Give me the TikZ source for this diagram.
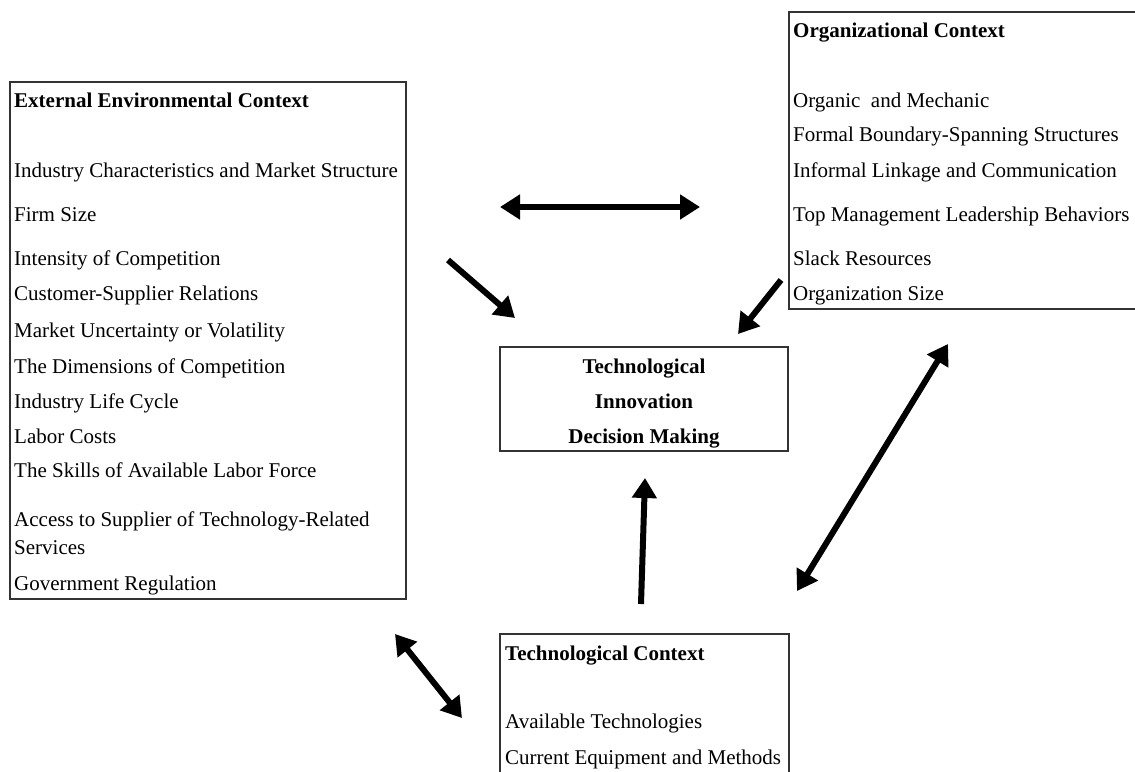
\documentclass[tikz,border=0pt]{standalone}
\usepackage{fontspec}
\setmainfont{Liberation Serif}
\usetikzlibrary{arrows.meta}
\begin{document}
\begin{tikzpicture}[x=1pt,y=-1pt,
  box/.style={draw=black!80, line width=2pt, inner sep=0pt, anchor=north west},
  item/.style={anchor=base west, inner sep=0pt, font=\fontsize{21}{25}\selectfont},
  head/.style={item, font=\fontsize{21}{25}\selectfont\bfseries},
  centre/.style={anchor=base, inner sep=0pt, font=\fontsize{21}{25}\selectfont\bfseries},
  >={Triangle[length=20pt,width=24pt]},
  link/.style={line width=6pt, ->},
  dlink/.style={line width=6pt, <->}]
\useasboundingbox (0,0) rectangle (1135,771);
\clip (0,0) rectangle (1135,771);

% frames
\node[box, minimum width=396pt, minimum height=517pt] (ext) at (9,81) {};
\node[box, minimum width=360pt, minimum height=297pt] (org) at (788,11) {};
\node[box, minimum width=288pt, minimum height=104pt] (tid) at (499,346) {};
\node[box, minimum width=289pt, minimum height=180pt] (tec) at (499,633) {};

% external environmental context
\node[head] (e0) at (14,107) {External Environmental Context};
\node[item] (e1) at (14,177) {Industry Characteristics and Market Structure};
\node[item] (e2) at (14,221) {Firm Size};
\node[item] (e3) at (14,265) {Intensity of Competition};
\node[item] (e4) at (14,300) {Customer-Supplier Relations};
\node[item] (e5) at (14,337) {Market Uncertainty or Volatility};
\node[item] (e6) at (14,373) {The Dimensions of Competition};
\node[item] (e7) at (14,408) {Industry Life Cycle};
\node[item] (e8) at (14,443) {Labor Costs};
\node[item] (e9) at (14,477) {The Skills of Available Labor Force};
\node[item] (e10) at (14,526) {Access to Supplier of Technology-Related};
\node[item] (e11) at (14,554) {Services};
\node[item] (e12) at (14,590) {Government Regulation};

% organizational context
\node[head] (o0) at (793,37) {Organizational Context};
\node[item] (o1) at (793,107) {Organic\ \ and Mechanic};
\node[item] (o2) at (793,141) {Formal Boundary-Spanning Structures};
\node[item] (o3) at (793,177) {Informal Linkage and Communication};
\node[item] (o4) at (793,221) {Top Management Leadership Behaviors};
\node[item] (o5) at (793,265) {Slack Resources};
\node[item] (o6) at (793,300) {Organization Size};

% decision making
\node[centre] (t1) at (644,373) {Technological};
\node[centre] (t2) at (644,408) {Innovation};
\node[centre] (t3) at (644,443) {Decision Making};

% technological context
\node[head] (c0) at (505,660) {Technological Context};
\node[item] (c1) at (505,728) {Available Technologies};
\node[item] (c2) at (505,764) {Current Equipment and Methods};

% arrow ends
\coordinate (h1) at (500,207);
\coordinate (h2) at (700,207);
\coordinate (a1) at (448,260);
\coordinate (a2) at (515,318);
\coordinate (b1) at (781,280);
\coordinate (b2) at (738,334);
\coordinate (d1) at (948,344);
\coordinate (d2) at (797,591);
\coordinate (u1) at (641,604);
\coordinate (u2) at (645,478);
\coordinate (g1) at (395,634);
\coordinate (g2) at (462,718);

\draw[dlink] (h1) -- (h2);
\draw[link] (a1) -- (a2);
\draw[link] (b1) -- (b2);
\draw[dlink] (d1) -- (d2);
\draw[link] (u1) -- (u2);
\draw[dlink] (g1) -- (g2);
\end{tikzpicture}
\end{document}
